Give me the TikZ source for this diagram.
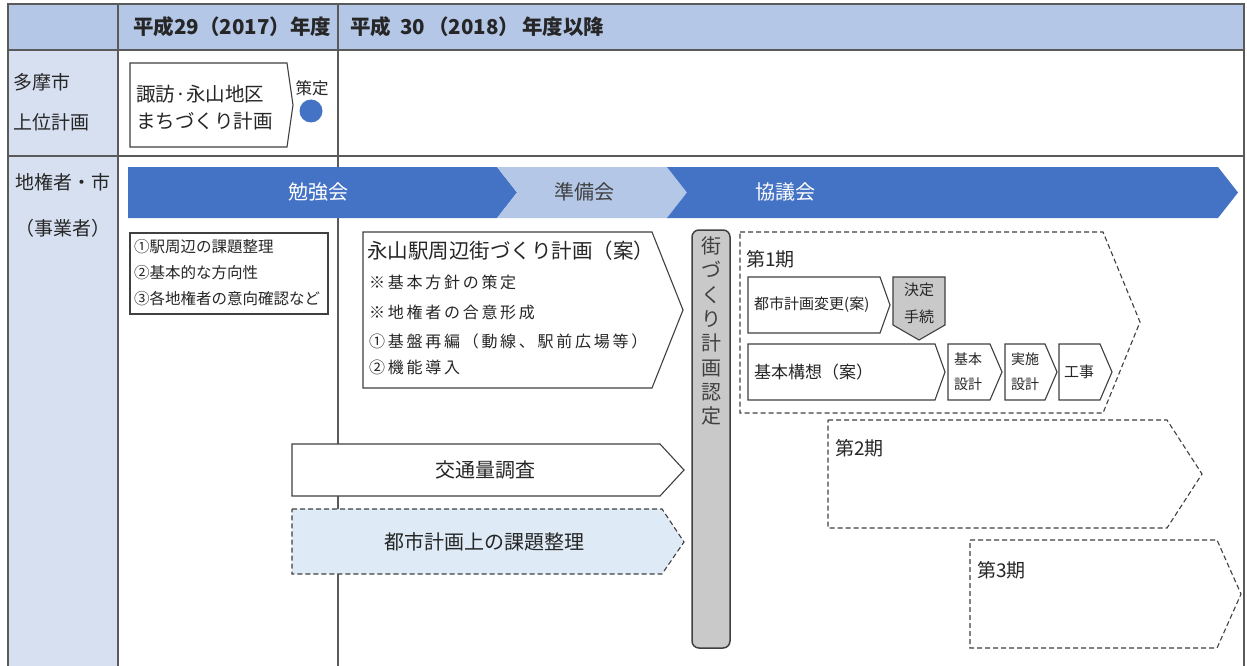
\documentclass[tikz,border=0pt]{standalone}
\usepackage{fontspec}
\setmainfont{Noto Sans CJK JP}
\newfontfamily\jpls[LetterSpace=17]{Noto Sans CJK JP}
\definecolor{hdr}{HTML}{B4C7E7}
\definecolor{lcol}{HTML}{D6E0F1}
\definecolor{dblue}{HTML}{4472C4}
\definecolor{lblue}{HTML}{B4C7E7}
\definecolor{pale}{HTML}{DEEBF7}
\definecolor{gfill}{HTML}{C9C9C9}
\definecolor{ln}{HTML}{5A5A5A}
\definecolor{bx}{HTML}{404040}
\definecolor{tx}{HTML}{262626}
\tikzset{
  tline/.style={draw=ln, line width=1.3pt},
  wbox/.style={draw=bx, fill=white, line width=1.1pt, line join=miter},
  dbox/.style={draw=bx, line width=1.1pt, dash pattern=on 5pt off 3pt},
  lbl/.style={inner sep=0pt, text=tx},
  fs/.style={font=\fontsize{#1}{#1}\selectfont},
  hd/.style={font=\bfseries\fontsize{20.5}{20.5}\selectfont}
}
\begin{document}
\begin{tikzpicture}[x=1pt,y=-1pt]
\useasboundingbox (0,0) rectangle (1247,666);
\fill[white] (0,0) rectangle (1247,666);
% table
\fill[hdr] (8,4) rectangle (1244,50);
\fill[lcol] (8,50) rectangle (118,666);
\draw[tline] (8,666) -- (8,4) -- (1244,4) -- (1244,666);
\draw[tline] (8,50) -- (1244,50);
\draw[tline] (8,156) -- (1244,156);
\draw[tline] (118,4) -- (118,666);
\draw[tline] (338,4) -- (338,666);
% header texts
\node[lbl, anchor=west, hd] (h1) at (133,27) {平成29（2017）年度};
\node[lbl, anchor=west, hd] (h2) at (350,27) {平成\hspace{9pt}30\hspace{3pt}（2018）\hspace{3pt}年度以降};
% left column
\node[lbl, anchor=west, fs=19] (l1) at (13,82) {多摩市};
\node[lbl, anchor=west, fs=19] (l2) at (13,122) {上位計画};
\node[lbl, fs=19] (l3) at (63,182) {地権者・市};
\node[lbl, fs=19] (l4) at (63,228) {（事業者）};
% row 2
\draw[wbox] (130,63) -- (287,63) -- (293,105) -- (287,147) -- (130,147) -- cycle;
\node[lbl, anchor=west, fs=19.5] (s1) at (136,94) {諏訪·永山地区};
\node[lbl, anchor=west, fs=19.5] (s2) at (136,121) {まちづくり計画};
\node[lbl, fs=16.5] (sakutei) at (312,88) {策定};
\node[circle, fill=dblue, minimum size=23pt, inner sep=0pt] (dot) at (311,111) {};
% chevrons
\fill[dblue] (128,167) -- (497,167) -- (517,192.5) -- (497,218) -- (128,218) -- cycle;
\fill[lblue] (497,167) -- (667,167) -- (687,192.5) -- (667,218) -- (497,218) -- (517,192.5) -- cycle;
\fill[dblue] (667,167) -- (1218,167) -- (1238,192.5) -- (1218,218) -- (667,218) -- (687,192.5) -- cycle;
\node[inner sep=0pt, text=white, fs=20] (c1) at (318,192) {勉強会};
\node[lbl, fs=20, text=bx] (c2) at (584,192) {準備会};
\node[inner sep=0pt, text=white, fs=20] (c3) at (785,192) {協議会};
% box 1
\draw[wbox] (130,233) rectangle (328,314);
\node[lbl, anchor=west, fs=15.5] (b1) at (134,247) {①駅周辺の課題整理};
\node[lbl, anchor=west, fs=15.5] (b2) at (134,273) {②基本的な方向性};
\node[lbl, anchor=west, fs=15.5] (b3) at (134,299) {③各地権者の意向確認など};
% nagayama box
\draw[wbox] (363,232) -- (652,232) -- (683,310) -- (652,388) -- (363,388) -- cycle;
\node[lbl, anchor=west, fs=20.5] (n0) at (367,251) {永山駅周辺街づくり計画（案）};
\node[lbl, anchor=west, font=\jpls\fontsize{16}{16}\selectfont] (n1) at (369,282) {※基本方針の策定};
\node[lbl, anchor=west, font=\jpls\fontsize{16}{16}\selectfont] (n2) at (369,312) {※地権者の合意形成};
\node[lbl, anchor=west, font=\jpls\fontsize{16}{16}\selectfont] (n3) at (369,341) {①基盤再編（動線、駅前広場等）};
\node[lbl, anchor=west, font=\jpls\fontsize{16}{16}\selectfont] (n4) at (369,367) {②機能導入};
% traffic boxes
\draw[wbox] (292,444) -- (660,444) -- (684,470) -- (660,496) -- (292,496) -- cycle;
\node[lbl, fs=20] (t1) at (485,470) {交通量調査};
\fill[pale] (292,509) -- (662,509) -- (684,542) -- (662,574) -- (292,574) -- cycle;
\draw[dbox] (292,509) -- (662,509) -- (684,542) -- (662,574) -- (292,574) -- cycle;
\node[lbl, fs=20] (t2) at (484,542) {都市計画上の課題整理};
% vertical bar
\draw[draw=bx, fill=gfill, line width=1.5pt, rounded corners=7pt] (692,230) rectangle (730,648);
\node[lbl, align=center, font=\fontsize{20}{24.3}\selectfont, text=bx] (v) at (711,331) {街\\づ\\く\\り\\計\\画\\認\\定};
% phase 1
\draw[dbox] (740,232) -- (1103,232) -- (1140,322) -- (1103,413) -- (740,413) -- cycle;
\node[lbl, anchor=west, fs=19] (p1) at (746,259) {第1期};
\draw[wbox] (748,277) -- (880,277) -- (890,305) -- (880,333) -- (748,333) -- cycle;
\node[lbl, anchor=west, fs=15] (k1) at (754,305) {都市計画変更(案)};
\draw[draw=bx, fill=gfill, line width=1.1pt] (893,277) -- (945,277) -- (945,325) -- (919,340) -- (893,325) -- cycle;
\node[lbl, align=center, font=\fontsize{15}{27}\selectfont] (k2) at (919,303) {決定\\手続};
\draw[wbox] (748,344) -- (935,344) -- (945,372) -- (935,400) -- (748,400) -- cycle;
\node[lbl, anchor=west, fs=17] (k3) at (754,372) {基本構想（案）};
\draw[wbox] (948,344) -- (990,344) -- (1002,372) -- (990,400) -- (948,400) -- cycle;
\node[lbl, align=center, font=\fontsize{14}{25}\selectfont] (k4) at (968,372) {基本\\設計};
\draw[wbox] (1005,344) -- (1045,344) -- (1057,372) -- (1045,400) -- (1005,400) -- cycle;
\node[lbl, align=center, font=\fontsize{14}{25}\selectfont] (k5) at (1025,372) {実施\\設計};
\draw[wbox] (1059,344) -- (1100,344) -- (1112,372) -- (1100,400) -- (1059,400) -- cycle;
\node[lbl, fs=15] (k6) at (1079,372) {工事};
% phase 2, 3
\draw[dbox] (828,420) -- (1167,420) -- (1202,474) -- (1167,528) -- (828,528) -- cycle;
\node[lbl, anchor=west, fs=19] (p2) at (835,448) {第2期};
\draw[dbox] (970,540) -- (1217,540) -- (1241,594) -- (1217,648) -- (970,648) -- cycle;
\node[lbl, anchor=west, fs=19] (p3) at (977,570) {第3期};
\end{tikzpicture}
\end{document}
